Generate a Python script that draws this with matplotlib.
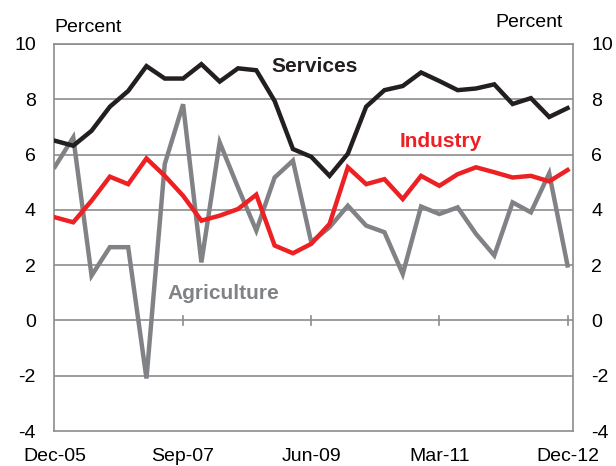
import numpy as np
import matplotlib
matplotlib.use("Agg")
import matplotlib.pyplot as plt

plt.rcParams["font.family"] = ["Liberation Sans", "DejaVu Sans"]
plt.rcParams["axes.unicode_minus"] = False

# ── Data (quarterly, Dec-05 .. Dec-12) ───────────────────────────────────────
tick_labels = ["Dec-05", "Sep-07", "Jun-09", "Mar-11", "Dec-12"]

services = [6.50, 6.32, 6.86, 7.73, 8.30, 9.20, 8.75, 8.75, 9.27, 8.64,
            9.12, 9.05, 7.94, 6.20, 5.92, 5.23, 6.03, 7.73, 8.33, 8.48,
            8.97, 8.66, 8.33, 8.39, 8.54, 7.83, 8.04, 7.36, 7.68]
industry = [3.73, 3.55, 4.33, 5.20, 4.93, 5.86, 5.23, 4.51, 3.61, 3.79,
            4.03, 4.55, 2.71, 2.43, 2.77, 3.49, 5.54, 4.93, 5.11, 4.39,
            5.23, 4.87, 5.29, 5.54, 5.36, 5.17, 5.23, 5.03, 5.44]
agriculture = [5.56, 6.62, 1.62, 2.65, 2.65, -2.10, 5.66, 7.82, 2.10, 6.44,
               4.81, 3.25, 5.17, 5.78, 2.83, 3.37, 4.15, 3.43, 3.19, 1.68,
               4.12, 3.85, 4.09, 3.13, 2.35, 4.27, 3.91, 5.32, 1.99]

BLACK = "#231f20"
RED = "#ed2024"
GREY = "#808285"
GRID = "#8c8c8c"

x = np.arange(len(services))

fig = plt.figure(figsize=(6.16, 4.66), dpi=100)
ax = fig.add_axes([0.0877, 0.0751, 0.8425, 0.8305])

ax.plot(x, agriculture, color=GREY, lw=3.2, solid_joinstyle="miter", zorder=3)
ax.plot(x, industry, color=RED, lw=3.2, solid_joinstyle="miter", zorder=4)
ax.plot(x, services, color=BLACK, lw=3.2, solid_joinstyle="miter", zorder=5)

ax.set_ylim(-4, 10)
ax.set_xlim(-0.05, 28.3)
ax.set_yticks(np.arange(-4, 11, 2))
for y in np.arange(-2, 11, 2):
    ax.axhline(y, color=GRID, lw=1.2, zorder=1)

# tick marks on the zero line
for t in [7, 14, 21, 28]:
    ax.plot([t, t], [-0.15, 0.15], color=GRID, lw=1.2, zorder=1)

ax.set_xticks([0, 7, 14, 21, 28])
ax.set_xticklabels(tick_labels)
ax.tick_params(axis="x", length=0, pad=12, labelsize=14)
ax.tick_params(axis="y", length=0, labelsize=14,
               labelleft=True, labelright=True)
for tick in ax.yaxis.get_major_ticks():
    tick.set_pad(13)
    tick.label1.set_horizontalalignment("right")
for tick in ax.yaxis.get_major_ticks():
    tick.label2.set_horizontalalignment("left")

for s in ax.spines.values():
    s.set_color(GRID)
    s.set_linewidth(1.2)

fig.text(0.088, 0.942, "Percent", fontsize=14, ha="left", va="center")
fig.text(0.913, 0.952, "Percent", fontsize=14, ha="right", va="center")

ax.text(14.2, 9.17, "Services", color=BLACK, fontsize=15, fontweight="bold",
        ha="center", va="center")
ax.text(21.1, 6.46, "Industry", color=RED, fontsize=15, fontweight="bold",
        ha="center", va="center")
ax.text(9.2, 0.97, "Agriculture", color=GREY, fontsize=15, fontweight="bold",
        ha="center", va="center")

fig.savefig("out.png", dpi=100)
